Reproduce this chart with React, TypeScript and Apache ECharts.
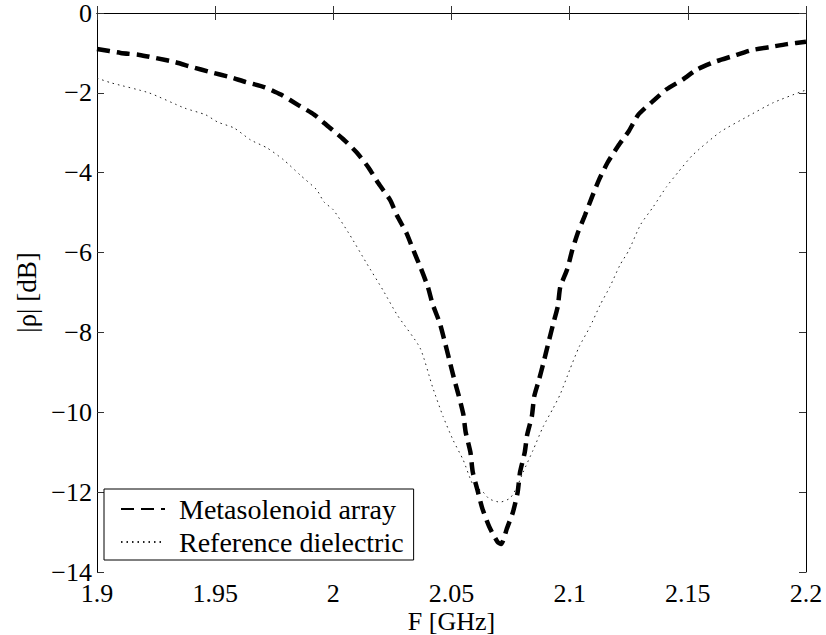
import React, { useEffect, useRef } from "react";
import * as echarts from "echarts";

const freqMeta = [
  1.9, 1.91, 1.918, 1.925, 1.933, 1.94, 1.948, 1.956, 1.963, 1.971, 1.978, 1.985,
  1.992, 1.998, 2.004, 2.01, 2.015, 2.019, 2.024, 2.027, 2.031, 2.034, 2.037, 2.04,
  2.042, 2.045, 2.047, 2.049, 2.051, 2.053, 2.055, 2.056, 2.058, 2.059, 2.061, 2.063,
  2.066, 2.0695, 2.071, 2.0735, 2.076, 2.078, 2.079, 2.081, 2.082, 2.084, 2.085, 2.087,
  2.089, 2.091, 2.093, 2.095, 2.096, 2.099, 2.101, 2.1035, 2.1065, 2.1095, 2.1124,
  2.116, 2.1205, 2.125, 2.129, 2.135, 2.141, 2.148, 2.154, 2.1615, 2.169, 2.177,
  2.185, 2.192, 2.2,
];
const rhoMeta = [
  -0.9, -1.0, -1.05, -1.13, -1.23, -1.35, -1.48, -1.6, -1.73, -1.86, -2.05, -2.3,
  -2.55, -2.85, -3.15, -3.5, -3.88, -4.26, -4.68, -5.08, -5.52, -5.96, -6.39, -6.86,
  -7.29, -7.76, -8.2, -8.67, -9.14, -9.57, -10.05, -10.5, -11.0, -11.5, -11.95, -12.4,
  -12.87, -13.25, -13.3, -12.9, -12.5, -12.0, -11.5, -11.0, -10.57, -10.1, -9.6, -9.19,
  -8.74, -8.26, -7.79, -7.34, -6.87, -6.41, -5.96, -5.5, -5.06, -4.6, -4.18,
  -3.75, -3.33, -2.96, -2.55, -2.22, -1.91, -1.66, -1.41, -1.22, -1.08, -0.93,
  -0.85, -0.78, -0.72,
];

const freqRef = [
  1.9, 1.906, 1.922, 1.937, 1.946, 1.951, 1.958, 1.965, 1.972, 1.979, 1.986, 1.993,
  1.996, 2.0, 2.007, 2.014, 2.021, 2.027, 2.0367, 2.042, 2.0464, 2.0507, 2.055, 2.059,
  2.0634, 2.066, 2.0705, 2.0748, 2.0777, 2.0803, 2.0845, 2.0887, 2.093, 2.096, 2.1,
  2.104, 2.1086, 2.1129, 2.117, 2.1213, 2.125, 2.13, 2.1353, 2.141, 2.146, 2.152,
  2.1637, 2.175, 2.186, 2.1975, 2.2,
];
const rhoRef = [
  -1.63, -1.75, -2.0, -2.38, -2.55, -2.73, -2.88, -3.18, -3.38, -3.68, -4.06, -4.43,
  -4.73, -4.93, -5.56, -6.26, -6.94, -7.56, -8.39, -9.37, -10.1, -10.7, -11.2, -11.8,
  -12.0, -12.17, -12.25, -12.15, -11.87, -11.5, -10.95, -10.37, -9.9, -9.55, -8.94,
  -8.36, -7.86, -7.31, -6.86, -6.31, -5.95, -5.3, -4.86, -4.35, -3.98, -3.56,
  -2.98, -2.6, -2.25, -1.98, -1.93,
];

const seriesNames = ["Metasolenoid array", "Reference dielectric"];
const xTitle = "F [GHz]";
const yTitle = "|ρ| [dB]";

const FONT = "'Liberation Serif', 'Times New Roman', serif";

export default function App() {
  const ref = useRef<HTMLDivElement>(null);
  useEffect(() => {
    if (!ref.current) return;
    const chart = echarts.init(ref.current, null, { renderer: "svg" });
    const xFmt = (v: number) => Number(v.toFixed(2)).toString();
    const yFmt = (v: number) => (v < 0 ? "\u2212" + Math.abs(v) : String(v));
    const axisLine = { show: true, lineStyle: { color: "#000", width: 1 } };
    const tick = { show: true, inside: true, length: 7, lineStyle: { color: "#333", width: 1 } };
    const label = { fontFamily: FONT, fontSize: 26, color: "#000" };
    chart.setOption({
      animation: false,
      backgroundColor: "#fff",
      grid: {
        left: 97,
        right: 20,
        top: 13,
        bottom: 63,
        containLabel: false,
        outerBoundsMode: "none",
      },
      xAxis: [
        {
          type: "value",
          min: 1.9,
          max: 2.2,
          interval: 0.05,
          position: "bottom",
          name: xTitle,
          nameLocation: "middle",
          nameGap: 39,
          nameMoveOverlap: false,
          nameTextStyle: { fontFamily: FONT, fontSize: 26, color: "#000", lineHeight: 20 },
          axisLine,
          axisTick: tick,
          splitLine: { show: false },
          axisLabel: { ...label, margin: 11, lineHeight: 20, formatter: xFmt },
        },
        {
          type: "value",
          min: 1.9,
          max: 2.2,
          interval: 0.05,
          position: "top",
          axisLine,
          axisTick: tick,
          splitLine: { show: false },
          axisLabel: { show: false },
        },
      ],
      yAxis: [
        {
          type: "value",
          min: -14,
          max: 0,
          interval: 2,
          position: "left",
          name: yTitle,
          nameLocation: "middle",
          nameGap: 57,
          nameMoveOverlap: false,
          nameTextStyle: { fontFamily: FONT, fontSize: 27, color: "#000" },
          axisLine,
          axisTick: tick,
          splitLine: { show: false },
          axisLabel: {
            ...label,
            margin: 5,
            lineHeight: 18,
            padding: [5, 0, 0, 0],
            formatter: yFmt,
          },
        },
        {
          type: "value",
          min: -14,
          max: 0,
          interval: 2,
          position: "right",
          axisLine,
          axisTick: tick,
          splitLine: { show: false },
          axisLabel: { show: false },
        },
      ],
      legend: {
        data: seriesNames,
        orient: "vertical",
        left: 104,
        top: 489,
        backgroundColor: "#fff",
        borderColor: "#000",
        borderWidth: 1,
        borderRadius: 0,
        padding: [6, 10, 4, 16],
        itemWidth: 44,
        itemHeight: 14,
        itemGap: 5,
        itemStyle: { opacity: 0 },
        textStyle: { fontFamily: FONT, fontSize: 28, color: "#000", padding: [0, 0, 0, 9] },
      },
      series: [
        {
          name: seriesNames[0],
          type: "line",
          xAxisIndex: 0,
          yAxisIndex: 0,
          data: freqMeta.map((f, i) => [f, rhoMeta[i]]),
          symbol: "none",
          smooth: 0.2,
          lineStyle: { color: "#000", width: 4.5, type: [13, 7] },
          itemStyle: { color: "#000" },
          z: 3,
        },
        {
          name: seriesNames[1],
          type: "line",
          xAxisIndex: 0,
          yAxisIndex: 0,
          data: freqRef.map((f, i) => [f, rhoRef[i]]),
          symbol: "none",
          smooth: 0.2,
          lineStyle: { color: "#222", width: 1, type: [1.5, 4] },
          itemStyle: { color: "#222" },
          z: 2,
        },
      ],
    });
    return () => chart.dispose();
  }, []);
  return (
    <div
      ref={ref}
      style={{ position: "fixed", left: 0, top: 0, width: 826, height: 635 }}
    />
  );
}
